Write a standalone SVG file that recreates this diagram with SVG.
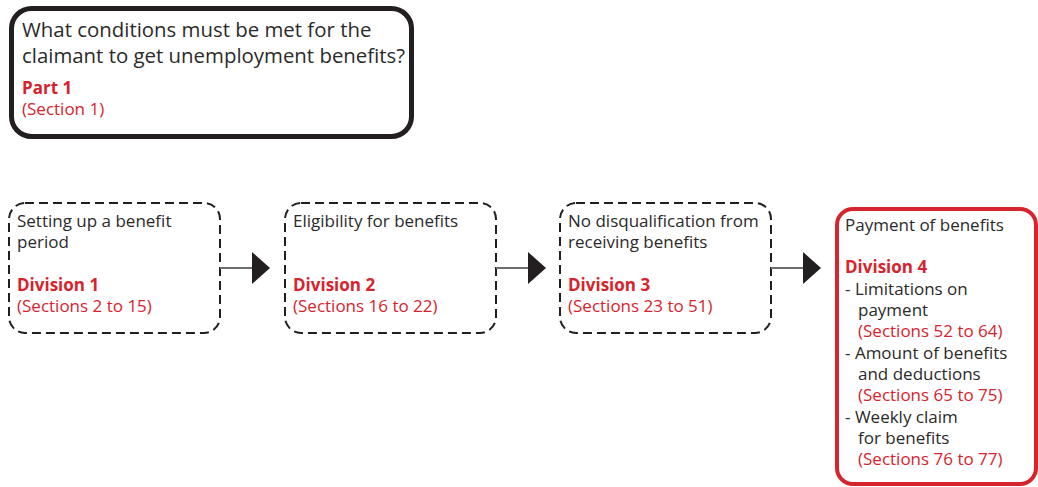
<svg xmlns="http://www.w3.org/2000/svg" width="1038" height="487" viewBox="0 0 1038 487">
<style>
text{font-family:"Open Sans","Liberation Sans",sans-serif;font-size:17px;fill:#2b2a2a}
.q{font-size:20.4px}
.r{fill:#d6242e}
.b{font-weight:bold}
.dash{fill:#fff;stroke:#231f20;stroke-width:2;stroke-dasharray:9 5}
.conn line{stroke:#6d6d6d;stroke-width:2}
.conn path{fill:#231f20}
</style>
<rect width="1038" height="487" fill="#fff"/>
<g id="part1">
<rect x="11.5" y="8.5" width="400" height="128" rx="20" fill="#fff" stroke="#231f20" stroke-width="5"/>
<text class="q" x="22" y="37">What conditions must be met for the</text>
<text class="q" x="22" y="63">claimant to get unemployment benefits?</text>
<text class="r b" x="22" y="94">Part 1</text>
<text class="r" x="22" y="115">(Section 1)</text>
</g>
<g id="division1">
<rect class="dash" x="9" y="203" width="211" height="130" rx="16"/>
<text x="17" y="227">Setting up a benefit</text>
<text x="17" y="248">period</text>
<text class="r b" x="17" y="291">Division 1</text>
<text class="r" x="17" y="312">(Sections 2 to 15)</text>
</g>
<g id="division2">
<rect class="dash" x="285" y="203" width="211" height="130" rx="16"/>
<text x="293" y="227">Eligibility for benefits</text>
<text class="r b" x="293" y="291">Division 2</text>
<text class="r" x="293" y="312">(Sections 16 to 22)</text>
</g>
<g id="division3">
<rect class="dash" x="560" y="203" width="211" height="130" rx="16"/>
<text x="568" y="227">No disqualification from</text>
<text x="568" y="248">receiving benefits</text>
<text class="r b" x="568" y="291">Division 3</text>
<text class="r" x="568" y="312">(Sections 23 to 51)</text>
</g>
<g id="division4">
<rect x="837" y="209" width="199" height="275" rx="16" fill="#fff" stroke="#d6242e" stroke-width="4"/>
<text x="845" y="231">Payment of benefits</text>
<text class="r b" x="845" y="273">Division 4</text>
<text x="845" y="295">- Limitations on</text>
<text x="858" y="316">payment</text>
<text class="r" x="858" y="337">(Sections 52 to 64)</text>
<text x="845" y="359">- Amount of benefits</text>
<text x="858" y="380">and deductions</text>
<text class="r" x="858" y="401">(Sections 65 to 75)</text>
<text x="845" y="423">- Weekly claim</text>
<text x="858" y="444">for benefits</text>
<text class="r" x="858" y="465">(Sections 76 to 77)</text>
</g>
<g class="conn" id="connectors">
<line x1="220" y1="268" x2="253" y2="268"/>
<path d="M252 252 L270 268 L252 284 Z"/>
<line x1="496" y1="268" x2="529" y2="268"/>
<path d="M528 252 L546 268 L528 284 Z"/>
<line x1="771" y1="268" x2="804" y2="268"/>
<path d="M803 252 L821 268 L803 284 Z"/>
</g>
</svg>
